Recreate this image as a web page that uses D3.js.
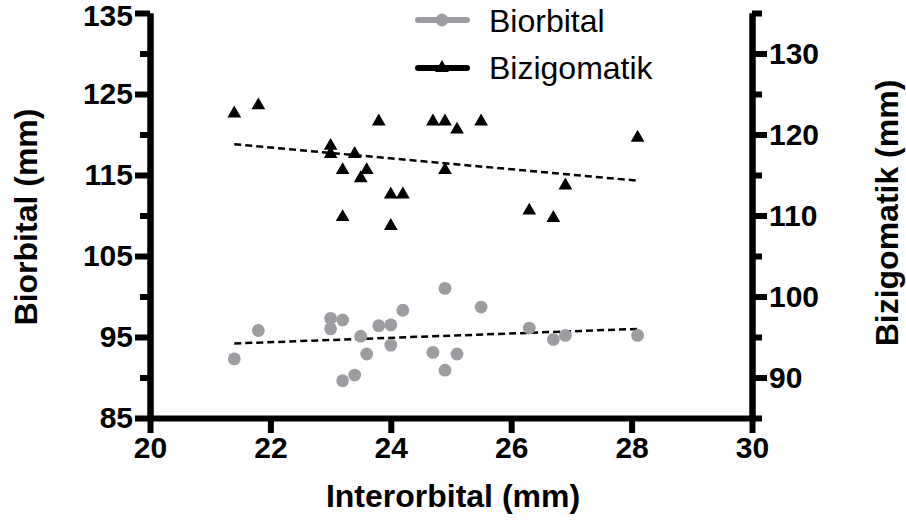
<!DOCTYPE html>
<html>
<head>
<meta charset="utf-8">
<script src="https://cdn.jsdelivr.net/npm/d3@7"></script>
<style>
  html, body { margin: 0; padding: 0; background: #fff; }
  svg { display: block; }
  text { font-family: "Liberation Sans", Arial, Helvetica, sans-serif; }
</style>
</head>
<body>
<svg id="chart" width="906" height="526"></svg>
<script>
// ---- data ----
const seriesNames = ["Biorbital", "Bizigomatik"];
const biorbitalX = [21.4, 21.8, 23.0, 23.0, 23.2, 23.2, 23.4, 23.5, 23.6, 23.8, 24.0, 24.0, 24.2, 24.7, 24.9, 24.9, 25.1, 25.5, 26.3, 26.7, 26.9, 28.1];
const biorbitalY = [92.3, 95.8, 97.3, 96.0, 97.1, 89.6, 90.3, 95.1, 92.9, 96.4, 96.5, 94.0, 98.3, 93.1, 101.0, 90.9, 92.9, 98.7, 96.1, 94.7, 95.2, 95.2];
const bizigomatikX = [21.4, 21.8, 23.0, 23.0, 23.2, 23.2, 23.4, 23.5, 23.6, 23.8, 24.0, 24.0, 24.2, 24.7, 24.9, 24.9, 25.1, 25.5, 26.3, 26.7, 26.9, 28.1];
const bizigomatikY = [122.6, 123.6, 118.6, 117.6, 115.6, 109.8, 117.6, 114.6, 115.6, 121.6, 112.6, 108.7, 112.6, 121.6, 121.6, 115.6, 120.6, 121.6, 110.6, 109.7, 113.7, 119.6];
const fitX = [21.4, 28.1];
const fitBiorbital = [94.2, 96.0];
const fitBizigomatik = [118.8, 114.3];
const xTicks = [20, 22, 24, 26, 28, 30];
const leftMajorTicks = [85, 95, 105, 115, 125, 135];
const leftMinorTicks = [90, 100, 110, 120, 130];
const rightMajorTicks = [90, 100, 110, 120, 130];
const rightMinorTicks = [85, 95, 105, 115, 125, 135];
const xTitle = "Interorbital (mm)";
const leftTitle = "Biorbital (mm)";
const rightTitle = "Bizigomatik (mm)";

// ---- drawing ----
const svg = d3.select("#chart");
const GRAY = "#9d9da1";
const AXW = 6;

const x = d3.scaleLinear().domain([20, 30]).range([150, 752]);
const y = d3.scaleLinear().domain([85, 135]).range([418, 13]);

function styleAxis(g, labelSize) {
  g.select(".domain").attr("stroke", "#000").attr("stroke-width", AXW);
  g.selectAll(".tick line").attr("stroke", "#000").attr("stroke-width", AXW);
  g.selectAll(".tick text")
    .attr("fill", "#000")
    .style("font-size", labelSize + "px")
    .style("font-weight", "bold")
    .style("font-family", "'Liberation Sans', Arial, sans-serif");
}

// fit lines (behind points)
const lineGen = d3.line().x(d => x(d[0])).y(d => y(d[1]));
[fitBiorbital, fitBizigomatik].forEach(f => {
  svg.append("path")
    .datum(fitX.map((v, i) => [v, f[i]]))
    .attr("d", lineGen)
    .attr("fill", "none")
    .attr("stroke", "#000")
    .attr("stroke-width", 2.5)
    .attr("stroke-dasharray", "7,4");
});

// points
svg.append("g").selectAll("circle")
  .data(biorbitalX.map((v, i) => [v, biorbitalY[i]]))
  .join("circle")
  .attr("cx", d => x(d[0]))
  .attr("cy", d => y(d[1]))
  .attr("r", 6.4)
  .attr("fill", GRAY);

const tri = d3.symbol().type(d3.symbolTriangle).size(82);
svg.append("g").selectAll("path")
  .data(bizigomatikX.map((v, i) => [v, bizigomatikY[i]]))
  .join("path")
  .attr("d", tri)
  .attr("transform", d => `translate(${x(d[0])},${y(d[1])})`)
  .attr("fill", "#000");

// axes
const gxa = svg.append("g").attr("transform", "translate(0,418)")
  .call(d3.axisBottom(x).tickValues(xTicks).tickSize(15).tickSizeOuter(0).tickPadding(4).tickFormat(d3.format("d")));
styleAxis(gxa, 30);

const gl = svg.append("g").attr("transform", "translate(150,0)")
  .call(d3.axisLeft(y).tickValues(leftMajorTicks).tickSize(15).tickSizeOuter(0).tickPadding(2).tickFormat(d3.format("d")));
styleAxis(gl, 30);
gl.selectAll(".tick text").filter(d => d === 135).attr("dy", "0.4em");
const glm = svg.append("g").attr("transform", "translate(150,0)")
  .call(d3.axisLeft(y).tickValues(leftMinorTicks).tickSize(10).tickSizeOuter(0).tickFormat(""));
styleAxis(glm, 30);

const gr = svg.append("g").attr("transform", "translate(752,0)")
  .call(d3.axisRight(y).tickValues(rightMajorTicks).tickSize(15).tickSizeOuter(0).tickPadding(2).tickFormat(d3.format("d")));
styleAxis(gr, 30);
const grm = svg.append("g").attr("transform", "translate(752,0)")
  .call(d3.axisRight(y).tickValues(rightMinorTicks).tickSize(10).tickSizeOuter(0).tickFormat(""));
styleAxis(grm, 30);

// axis titles
svg.append("text")
  .attr("x", 453).attr("y", 507)
  .attr("text-anchor", "middle")
  .style("font-size", "32px").style("font-weight", "bold")
  .text(xTitle);
svg.append("text")
  .attr("transform", "translate(37,217) rotate(-90)")
  .attr("text-anchor", "middle")
  .style("font-size", "32px").style("font-weight", "bold")
  .text(leftTitle);
svg.append("text")
  .attr("transform", "translate(898,213) rotate(-90)")
  .attr("text-anchor", "middle")
  .style("font-size", "32px").style("font-weight", "bold")
  .text(rightTitle);

// legend
const legendRows = [
  { name: seriesNames[0], color: GRAY, marker: "circle", ly: 20, ty: 32 },
  { name: seriesNames[1], color: "#000", marker: "triangle", ly: 68, ty: 79 }
];
const lg = svg.append("g");
legendRows.forEach(r => {
  lg.append("line")
    .attr("x1", 418).attr("x2", 467).attr("y1", r.ly).attr("y2", r.ly)
    .attr("stroke", r.color).attr("stroke-width", AXW).attr("stroke-linecap", "round");
  if (r.marker === "circle") {
    lg.append("circle").attr("cx", 442).attr("cy", r.ly).attr("r", 6.4).attr("fill", r.color);
  } else {
    lg.append("path").attr("d", tri).attr("transform", `translate(442,${r.ly})`).attr("fill", r.color);
  }
  lg.append("text")
    .attr("x", 489).attr("y", r.ty)
    .style("font-size", "32px")
    .text(r.name);
});
</script>
</body>
</html>
